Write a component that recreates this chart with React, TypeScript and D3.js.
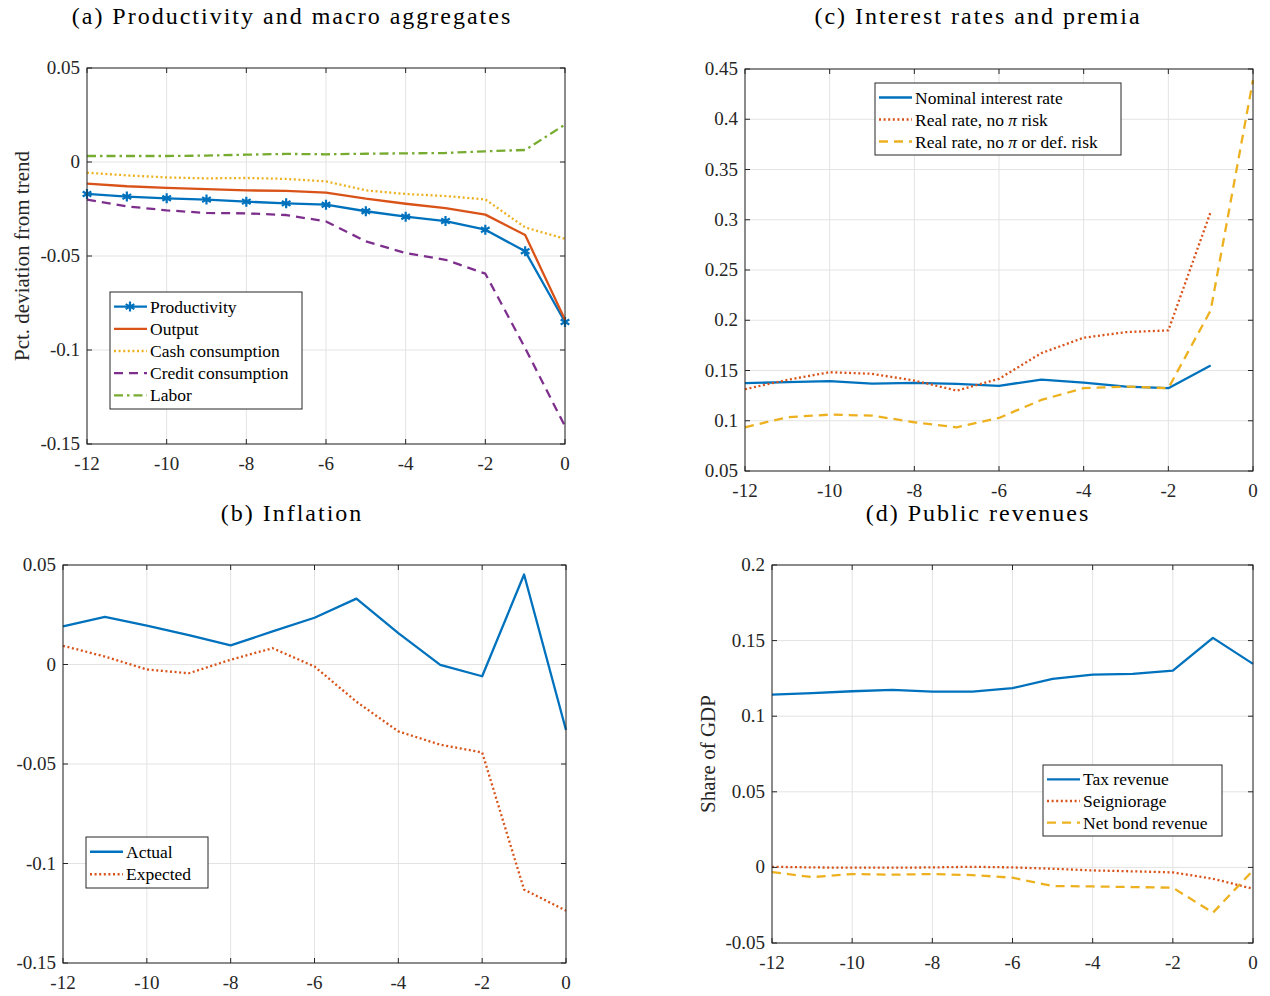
import React, { useEffect, useRef } from 'react';
import * as d3 from 'd3';

// months before the event
const months = [-12, -11, -10, -9, -8, -7, -6, -5, -4, -3, -2, -1, 0];
const xTicks = [-12, -10, -8, -6, -4, -2, 0];

// (a) Productivity and macro aggregates
const productivity = [-0.017, -0.0184, -0.0193, -0.02, -0.0211, -0.022, -0.0227, -0.0262, -0.0291, -0.0314, -0.036, -0.0475, -0.0851];
const output = [-0.0115, -0.0129, -0.0138, -0.0144, -0.0151, -0.0154, -0.0163, -0.0195, -0.0222, -0.0245, -0.028, -0.0388, -0.0839];
const cashConsumption = [-0.0057, -0.0071, -0.0082, -0.0087, -0.0085, -0.009, -0.0103, -0.0151, -0.017, -0.0181, -0.0199, -0.0348, -0.0408];
const creditConsumption = [-0.02, -0.0236, -0.0257, -0.0271, -0.0273, -0.0282, -0.0316, -0.0422, -0.0484, -0.052, -0.0594, -0.099, -0.1406];
const labor = [0.0032, 0.0032, 0.0032, 0.0034, 0.0039, 0.0043, 0.0041, 0.0044, 0.0046, 0.0048, 0.0057, 0.0064, 0.0199];
const yTicksA = [-0.15, -0.1, -0.05, 0, 0.05];

// (b) Inflation
const actual = [0.0192, 0.0239, 0.0195, 0.0148, 0.0096, 0.0166, 0.0235, 0.0331, 0.0158, -0.0002, -0.0059, 0.0452, -0.0329];
const expected = [0.0094, 0.004, -0.0025, -0.0044, 0.0024, 0.0082, -0.001, -0.0187, -0.0336, -0.0403, -0.0442, -0.1131, -0.1237];
const yTicksB = [-0.15, -0.1, -0.05, 0, 0.05];

// (c) Interest rates and premia
const nominalRate = [0.1374, 0.1384, 0.1394, 0.137, 0.1377, 0.1367, 0.1347, 0.141, 0.138, 0.134, 0.1324, 0.155, null];
const realNoPi = [0.1314, 0.1407, 0.1483, 0.1467, 0.14, 0.13, 0.1417, 0.1673, 0.1826, 0.1882, 0.1899, 0.3078, null];
const realNoPiDef = [0.0935, 0.1035, 0.1061, 0.1051, 0.0985, 0.0935, 0.1028, 0.1207, 0.1324, 0.134, 0.1324, 0.2098, 0.439];
const yTicksC = [0.05, 0.1, 0.15, 0.2, 0.25, 0.3, 0.35, 0.4, 0.45];

// (d) Public revenues
const taxRevenue = [0.1143, 0.1152, 0.1165, 0.1174, 0.1163, 0.1163, 0.1185, 0.1247, 0.1275, 0.128, 0.1302, 0.1518, 0.1346];
const seigniorage = [0.0004, 0, -0.0002, -0.0002, 0, 0.0004, 0, -0.0009, -0.002, -0.0026, -0.0033, -0.0075, -0.0141];
const netBondRevenue = [-0.0031, -0.0064, -0.0044, -0.0048, -0.0044, -0.0051, -0.0068, -0.0123, -0.0126, -0.013, -0.0134, -0.03, -0.002];
const yTicksD = [-0.05, 0, 0.05, 0.1, 0.15, 0.2];

const BLUE = '#0072BD';
const ORANGE = '#D95319';
const YELLOW = '#EDB120';
const PURPLE = '#7E2F8E';
const GREEN = '#77AC30';

const DASH = { solid: null, dot: '2 2.6', dash: '9 6', dashdot: '9 4 2.5 4' };

const SERIF = "'Liberation Serif', 'Times New Roman', serif";
const TITLE_FONT = "'Liberation Serif', serif";

const panels = [
  {
    title: '(a) Productivity and macro aggregates', titleX: 292, titleY: 24,
    left: 87, right: 565, top: 68, bottom: 444,
    yDomain: [-0.15, 0.05], yTicks: yTicksA,
    ylabel: 'Pct. deviation from trend', ylabelX: 22,
    legend: { x: 110, y: 292, w: 192, h: 117 },
    series: [
      { name: 'Productivity', values: productivity, color: BLUE, dash: DASH.solid, marker: true },
      { name: 'Output', values: output, color: ORANGE, dash: DASH.solid },
      { name: 'Cash consumption', values: cashConsumption, color: YELLOW, dash: DASH.dot },
      { name: 'Credit consumption', values: creditConsumption, color: PURPLE, dash: DASH.dash },
      { name: 'Labor', values: labor, color: GREEN, dash: DASH.dashdot },
    ],
  },
  {
    title: '(b) Inflation', titleX: 292, titleY: 521,
    left: 63, right: 566, top: 565, bottom: 963,
    yDomain: [-0.15, 0.05], yTicks: yTicksB,
    legend: { x: 86, y: 837, w: 122, h: 51 },
    series: [
      { name: 'Actual', values: actual, color: BLUE, dash: DASH.solid },
      { name: 'Expected', values: expected, color: ORANGE, dash: DASH.dot },
    ],
  },
  {
    title: '(c) Interest rates and premia', titleX: 978, titleY: 24,
    left: 745, right: 1253, top: 69, bottom: 471,
    yDomain: [0.05, 0.45], yTicks: yTicksC,
    legend: { x: 875, y: 83, w: 246, h: 72 },
    series: [
      { name: 'Nominal interest rate', values: nominalRate, color: BLUE, dash: DASH.solid },
      { name: 'Real rate, no |π| risk', values: realNoPi, color: ORANGE, dash: DASH.dot },
      { name: 'Real rate, no |π| or def. risk', values: realNoPiDef, color: YELLOW, dash: DASH.dash },
    ],
  },
  {
    title: '(d) Public revenues', titleX: 978, titleY: 521,
    left: 772, right: 1253, top: 565, bottom: 943,
    yDomain: [-0.05, 0.2], yTicks: yTicksD,
    ylabel: 'Share of GDP', ylabelX: 708,
    legend: { x: 1043, y: 765, w: 179, h: 71 },
    series: [
      { name: 'Tax revenue', values: taxRevenue, color: BLUE, dash: DASH.solid },
      { name: 'Seigniorage', values: seigniorage, color: ORANGE, dash: DASH.dot },
      { name: 'Net bond revenue', values: netBondRevenue, color: YELLOW, dash: DASH.dash },
    ],
  },
];

const fmt = (v: number) => String(+v.toFixed(2));

// writes a label, italicising the parts wrapped in |...|
function writeLabel(text: any, label: string) {
  label.split('|').forEach((part, i) => {
    text.append('tspan').attr('font-style', i % 2 ? 'italic' : 'normal').text(part);
  });
}

function drawPanel(svg: any, p: any) {
  const x = d3.scaleLinear().domain([-12, 0]).range([p.left, p.right]);
  const y = d3.scaleLinear().domain(p.yDomain).range([p.bottom, p.top]);
  const g = svg.append('g');
  const axisColor = '#262626';

  // grid
  g.selectAll('.gx').data(xTicks).join('line')
    .attr('x1', (d: number) => x(d)).attr('x2', (d: number) => x(d))
    .attr('y1', p.top).attr('y2', p.bottom)
    .attr('stroke', '#e3e3e3').attr('stroke-width', 1);
  g.selectAll('.gy').data(p.yTicks).join('line')
    .attr('y1', (d: number) => y(d)).attr('y2', (d: number) => y(d))
    .attr('x1', p.left).attr('x2', p.right)
    .attr('stroke', '#e3e3e3').attr('stroke-width', 1);

  // series
  const line = d3.line<any>()
    .defined((d) => d[1] !== null)
    .x((d) => x(d[0]))
    .y((d) => y(d[1]));

  p.series.forEach((s: any) => {
    const pts = months.map((m, i) => [m, s.values[i]]);
    g.append('path')
      .attr('d', line(pts))
      .attr('fill', 'none')
      .attr('stroke', s.color)
      .attr('stroke-width', 2.3)
      .attr('stroke-dasharray', s.dash)
      .attr('stroke-linejoin', 'round');
    if (s.marker) {
      g.selectAll(null).data(pts).join('path')
        .attr('d', d3.symbol(d3.symbolAsterisk, 70)())
        .attr('transform', (d: any) => `translate(${x(d[0])},${y(d[1])})`)
        .attr('fill', 'none')
        .attr('stroke', s.color)
        .attr('stroke-width', 2.2);
    }
  });

  // box
  g.append('rect')
    .attr('x', p.left).attr('y', p.top)
    .attr('width', p.right - p.left).attr('height', p.bottom - p.top)
    .attr('fill', 'none').attr('stroke', axisColor).attr('stroke-width', 1);

  // ticks (inside, all sides)
  const tl = 5;
  xTicks.forEach((t) => {
    g.append('line').attr('x1', x(t)).attr('x2', x(t)).attr('y1', p.bottom).attr('y2', p.bottom - tl).attr('stroke', axisColor);
    g.append('line').attr('x1', x(t)).attr('x2', x(t)).attr('y1', p.top).attr('y2', p.top + tl).attr('stroke', axisColor);
  });
  p.yTicks.forEach((t: number) => {
    g.append('line').attr('y1', y(t)).attr('y2', y(t)).attr('x1', p.left).attr('x2', p.left + tl).attr('stroke', axisColor);
    g.append('line').attr('y1', y(t)).attr('y2', y(t)).attr('x1', p.right).attr('x2', p.right - tl).attr('stroke', axisColor);
  });

  // tick labels
  g.selectAll('.xl').data(xTicks).join('text')
    .attr('x', (d: number) => x(d)).attr('y', p.bottom + 26)
    .attr('text-anchor', 'middle')
    .attr('font-family', SERIF).attr('font-size', 19).attr('fill', axisColor)
    .text((d: number) => fmt(d));
  g.selectAll('.yl').data(p.yTicks).join('text')
    .attr('x', p.left - 7).attr('y', (d: number) => y(d) + 6)
    .attr('text-anchor', 'end')
    .attr('font-family', SERIF).attr('font-size', 19).attr('fill', axisColor)
    .text((d: number) => fmt(d));

  // y label
  if (p.ylabel) {
    g.append('text')
      .attr('transform', `translate(${p.ylabelX},${(p.top + p.bottom) / 2}) rotate(-90)`)
      .attr('text-anchor', 'middle').attr('dy', '0.35em')
      .attr('font-family', SERIF).attr('font-size', 21).attr('fill', axisColor)
      .text(p.ylabel);
  }

  // title
  g.append('text')
    .attr('x', p.titleX).attr('y', p.titleY)
    .attr('text-anchor', 'middle')
    .attr('font-family', TITLE_FONT).attr('font-size', 24).attr('letter-spacing', 2)
    .attr('fill', '#000')
    .text(p.title);

  // legend
  const L = p.legend;
  const lg = g.append('g');
  lg.append('rect').attr('x', L.x).attr('y', L.y).attr('width', L.w).attr('height', L.h)
    .attr('fill', '#fff').attr('stroke', axisColor).attr('stroke-width', 1);
  const rowH = (L.h - 6) / p.series.length;
  p.series.forEach((s: any, i: number) => {
    const cy = L.y + 3 + rowH * (i + 0.5) + 0.5;
    lg.append('line').attr('x1', L.x + 4).attr('x2', L.x + 37).attr('y1', cy).attr('y2', cy)
      .attr('stroke', s.color).attr('stroke-width', 2.3).attr('stroke-dasharray', s.dash);
    if (s.marker) {
      lg.append('path').attr('d', d3.symbol(d3.symbolAsterisk, 70)())
        .attr('transform', `translate(${L.x + 20},${cy})`)
        .attr('fill', 'none').attr('stroke', s.color).attr('stroke-width', 2.2);
    }
    const t = lg.append('text').attr('x', L.x + 40).attr('y', cy + 6)
      .attr('font-family', SERIF).attr('font-size', 17.5).attr('fill', '#000');
    writeLabel(t, s.name);
  });
}

export default function App() {
  const ref = useRef<SVGSVGElement>(null);

  useEffect(() => {
    const svg = d3.select(ref.current);
    svg.selectAll('*').remove();
    panels.forEach((p) => drawPanel(svg, p));
  }, []);

  return (
    <svg
      ref={ref}
      width={1270}
      height={996}
      style={{ position: 'absolute', left: 0, top: 0, background: '#fff' }}
    />
  );
}
